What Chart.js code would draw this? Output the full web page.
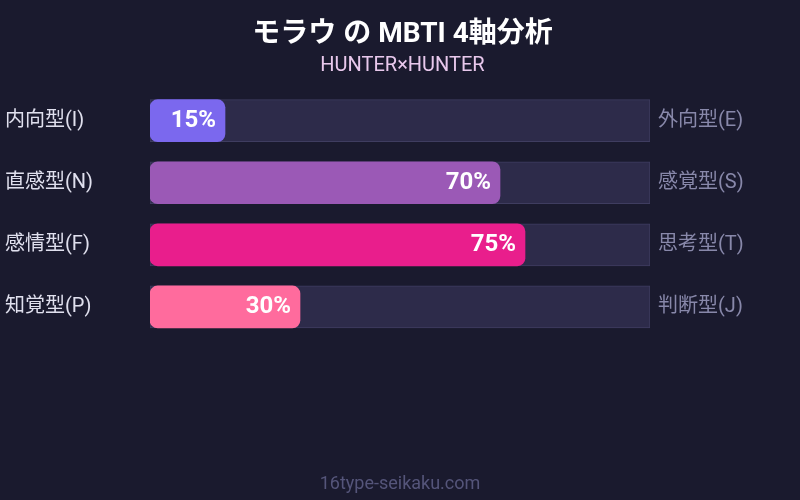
<!DOCTYPE html>
<html>
<head>
<meta charset="utf-8">
<script src="https://cdn.jsdelivr.net/npm/chart.js@4.4.1/dist/chart.umd.min.js"></script>
<style>
  html, body { margin:0; padding:0; background:#1a1a2e; }
  #wrap { width:800px; height:500px; }
</style>
</head>
<body>
<div id="wrap"><canvas id="mbti" width="800" height="500"></canvas></div>
<script>
// 4軸データ
const leftLabels  = ['内向型(I)', '直感型(N)', '感情型(F)', '知覚型(P)'];
const rightLabels = ['外向型(E)', '感覚型(S)', '思考型(T)', '判断型(J)'];
const scores      = [15, 70, 75, 30];
const trackMax    = [100, 100, 100, 100];
const barColors   = ['#7b68ee', '#9b59b6', '#e91e8c', '#ff6b9d'];

const FONT = "Roboto, 'Noto Sans CJK JP', sans-serif";

// バー内のパーセント表示 + フッター
const labelPlugin = {
  id: 'pctLabels',
  afterDatasetsDraw(chart) {
    const { ctx } = chart;
    const meta = chart.getDatasetMeta(0);
    ctx.save();
    ctx.font = 'bold 24px ' + FONT;
    ctx.fillStyle = '#ffffff';
    ctx.textAlign = 'right';
    ctx.textBaseline = 'middle';
    meta.data.forEach((bar, i) => {
      ctx.fillText(scores[i] + '%', bar.x - 9, bar.y);
    });
    ctx.restore();
  },
  afterDraw(chart) {
    const { ctx } = chart;
    ctx.save();
    ctx.font = '18px ' + FONT;
    ctx.fillStyle = '#55557a';
    ctx.textAlign = 'center';
    ctx.textBaseline = 'middle';
    ctx.fillText('16type-seikaku.com', 400, 484);
    ctx.restore();
  }
};

new Chart(document.getElementById('mbti').getContext('2d'), {
  type: 'bar',
  data: {
    labels: leftLabels,
    datasets: [
      { label:'score', data: scores, backgroundColor: barColors, borderRadius: 8, borderSkipped: false,
        barThickness: 42, grouped: false, order: 0 },
      { label:'track', data: trackMax, backgroundColor: '#2d2b4a', borderColor: '#3f3d60', borderWidth: 1,
        borderSkipped: false, barThickness: 42, grouped: false, order: 1 },
    ],
  },
  options: {
    indexAxis: 'y',
    responsive: false,
    animation: false,
    layout: { padding: { left: 5, right: 0, top: 0, bottom: 162 } },
    plugins: {
      legend: { display: false },
      tooltip: { enabled: false },
      title: { display: true, text: 'モラウ の MBTI 4軸分析', color: '#ffffff',
               font: { family: FONT, size: 28, weight: 'bold' }, padding: { top: 18, bottom: 1 } },
      subtitle: { display: true, text: 'HUNTER×HUNTER', color: '#e8c8ec',
               font: { family: FONT, size: 20 }, padding: { top: 1, bottom: 12 } },
    },
    scales: {
      x: { display: false, min: 0, max: 100 },
      y: { position: 'left', offset: true, grid: { display: false }, border: { display: false },
           ticks: { crossAlign: 'far', color: '#e0e0ee', font: { family: FONT, size: 20 } },
           afterFit(s) { s.width = 145; } },
      y2: { type: 'category', labels: rightLabels, position: 'right', offset: true,
            grid: { display: false, drawTicks: false }, border: { display: false },
            ticks: { padding: 8, color: '#8888aa', font: { family: FONT, size: 20 } },
            afterFit(s) { s.width = 150; } },
    },
  },
  plugins: [labelPlugin],
});
</script>
</body>
</html>
